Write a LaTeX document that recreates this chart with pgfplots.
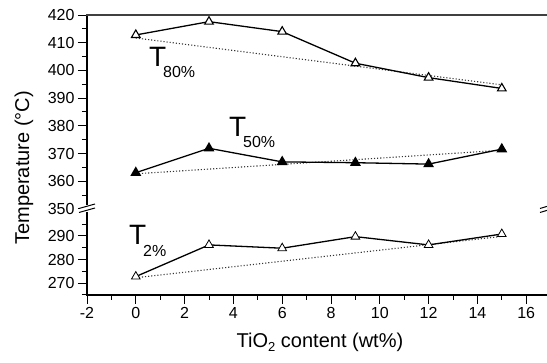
\documentclass[border=0pt]{standalone}
\usepackage{fontspec}
\setmainfont{Liberation Sans}
\usepackage{pgfplots}
\pgfplotsset{compat=1.18}
\begin{document}
\begin{tikzpicture}
\useasboundingbox (0pt,0pt) rectangle (547pt,363pt);
\pgfplotsset{
  brk/.style={
    scale only axis, width=488pt, xmin=-2, xmax=18,
    axis line style={draw=none},
    tick align=outside,
    xtick pos=bottom, ytick pos=left,
    major tick length=9pt, minor tick length=5pt,
    every tick/.style={black, line width=1pt},
    ticklabel style={font=\fontsize{16}{16}\selectfont},
    /pgf/number format/assume math mode=true,
    clip=false,
  }
}
% upper segment
\begin{axis}[brk, at={(87pt,154pt)}, anchor=south west, height=194pt,
  ymin=350, ymax=420, xtick=\empty,
  ytick={350,360,...,420}, minor ytick={355,365,...,415}]
\addplot[black!80, dotted, line width=1.1pt] coordinates {(0,411.7) (15,394.8)};
\addplot[black, line width=1.3pt, mark=triangle*, mark size=5pt,
  mark options={solid, fill=white, line width=1.1pt}]
  coordinates {(0,412.8) (3,417.6) (6,414.0) (9,402.6) (12,397.4) (15,393.5)};
\addplot[black!80, dotted, line width=1.1pt] coordinates {(0,362.7) (15,371.2)};
\addplot[black, line width=1.3pt, mark=triangle*, mark size=5pt,
  mark options={solid, fill=black}]
  coordinates {(0,363.1) (3,371.9) (6,367.0) (9,366.7) (12,366.2) (15,371.6)};
\end{axis}
% lower segment
\begin{axis}[brk, at={(87pt,68pt)}, anchor=south west, height=86pt,
  ymin=265, ymax=301.4,
  ytick={270,280,290}, minor ytick={265,275,285,295},
  xtick={-2,0,...,16}, minor xtick={-1,1,...,17}]
\addplot[black!80, dotted, line width=1.1pt] coordinates {(0,272.3) (15,289.8)};
\addplot[black, line width=1.3pt, mark=triangle*, mark size=5pt,
  mark options={solid, fill=white, line width=0.8pt}]
  coordinates {(0,272.8) (3,286.2) (6,284.8) (9,289.7) (12,286.2) (15,290.8)};
\end{axis}
% frame lines
\draw[line width=1.6pt] (87pt,68pt) -- (87pt,348pt);
\draw[line width=1.6pt] (86.2pt,68pt) -- (547pt,68pt);
\draw[line width=2.6pt, black!75] (86pt,348pt) -- (547pt,348pt);
% break marks
\fill[white] (80pt,151pt) rectangle (95pt,158pt);
\draw[line width=1pt] (79pt,150.5pt) -- (95pt,155pt);
\draw[line width=1pt] (79pt,154.5pt) -- (95pt,159pt);
\draw[line width=1pt] (540pt,150.5pt) -- (550pt,153.5pt);
\draw[line width=1pt] (540pt,154.5pt) -- (550pt,157.5pt);
% series labels
\node[anchor=base west, inner sep=0pt, font=\fontsize{28}{28}\selectfont] at (149pt,296pt) {T};
\node[anchor=base west, inner sep=0pt, font=\fontsize{16}{16}\selectfont] at (163pt,285pt) {80\%};
\node[anchor=base west, inner sep=0pt, font=\fontsize{28}{28}\selectfont] at (229pt,226pt) {T};
\node[anchor=base west, inner sep=0pt, font=\fontsize{16}{16}\selectfont] at (243pt,215pt) {50\%};
\node[anchor=base west, inner sep=0pt, font=\fontsize{28}{28}\selectfont] at (129pt,118pt) {T};
\node[anchor=base west, inner sep=0pt, font=\fontsize{16}{16}\selectfont] at (143pt,106pt) {2\%};
% axis labels
\node[rotate=90, font=\fontsize{20}{20}\selectfont] at (24pt,195pt) {Temperature (°C)};
\node[anchor=base, inner sep=0pt, font=\fontsize{20}{20}\selectfont] at (320pt,15pt) {TiO\raisebox{-4pt}{\fontsize{13}{13}\selectfont 2} content (wt\%)};
\end{tikzpicture}
\end{document}
